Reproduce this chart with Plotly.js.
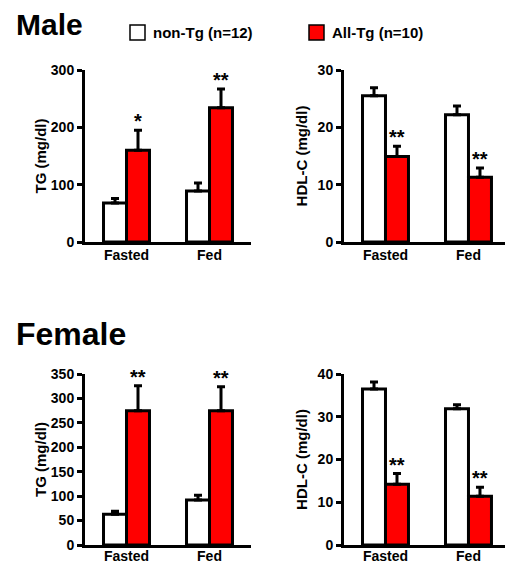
<!DOCTYPE html>
<html>
<head>
<meta charset="utf-8">
<script src="https://cdn.plot.ly/plotly-3.0.1.min.js"></script>
<style>html,body{margin:0;padding:0;background:#fff;}#chart{width:505px;height:563px;}</style>
</head>
<body>
<div id="chart"></div>
<script>
// ---- data ----
const categories = ['Fasted', 'Fed'];
const seriesNames = ['non-Tg (n=12)', 'All-Tg (n=10)'];
const sexTitles = ['Male', 'Female'];

const maleTG_nonTg = [68, 89];
const maleTG_nonTg_err = [8, 14];
const maleTG_allTg = [160, 234];
const maleTG_allTg_err = [35, 33];
const maleTG_sig = ['*', '**'];

const maleHDL_nonTg = [25.5, 22.2];
const maleHDL_nonTg_err = [1.4, 1.5];
const maleHDL_allTg = [14.9, 11.3];
const maleHDL_allTg_err = [1.8, 1.6];
const maleHDL_sig = ['**', '**'];

const femaleTG_nonTg = [63, 92];
const femaleTG_nonTg_err = [6, 10];
const femaleTG_allTg = [275, 275];
const femaleTG_allTg_err = [51, 49];
const femaleTG_sig = ['**', '**'];

const femaleHDL_nonTg = [36.5, 31.9];
const femaleHDL_nonTg_err = [1.6, 0.9];
const femaleHDL_allTg = [14.2, 11.4];
const femaleHDL_allTg_err = [2.5, 2.1];
const femaleHDL_sig = ['**', '**'];

const yTitles = ['TG (mg/dl)', 'HDL-C (mg/dl)', 'TG (mg/dl)', 'HDL-C (mg/dl)'];

// ---- build ----
const FONT = 'Arial, "Liberation Sans", sans-serif';
const W = 505, H = 563;
const panels = [
  {nt: maleTG_nonTg, nte: maleTG_nonTg_err, at: maleTG_allTg, ate: maleTG_allTg_err, sig: maleTG_sig, yr: [0, 300], dt: 100},
  {nt: maleHDL_nonTg, nte: maleHDL_nonTg_err, at: maleHDL_allTg, ate: maleHDL_allTg_err, sig: maleHDL_sig, yr: [0, 30], dt: 10},
  {nt: femaleTG_nonTg, nte: femaleTG_nonTg_err, at: femaleTG_allTg, ate: femaleTG_allTg_err, sig: femaleTG_sig, yr: [0, 350], dt: 50},
  {nt: femaleHDL_nonTg, nte: femaleHDL_nonTg_err, at: femaleHDL_allTg, ate: femaleHDL_allTg_err, sig: femaleHDL_sig, yr: [0, 40], dt: 10}
];
const xDomains = [[85 / W, 251 / W], [344 / W, 1]];
const xRanges = [[-0.5, 1.5], [-0.5, 1.44]];
const yDomains = [[1 - 242 / H, 1 - 70 / H], [1 - 545 / H, 1 - 374 / H]];
const labelStandoff = [-2, -4];
const titleStandoff = [1, 7];

const traces = [];
const annotations = [];
const layout = {
  width: W, height: H,
  margin: {l: 0, r: 0, t: 0, b: 0},
  paper_bgcolor: '#fff', plot_bgcolor: '#fff',
  showlegend: false,
  barmode: 'group', bargap: 0.446, bargroupgap: 0,
  font: {family: FONT, color: '#000', size: 14, weight: 700},
  annotations: annotations,
  shapes: []
};

panels.forEach((p, i) => {
  const n = i + 1;
  const xa = 'x' + (n === 1 ? '' : n), ya = 'y' + (n === 1 ? '' : n);
  const col = i % 2, row = Math.floor(i / 2);
  const errStyle = {type: 'data', symmetric: false, color: '#000', thickness: 3, width: 4};
  traces.push({
    type: 'bar', x: categories, y: p.nt, name: seriesNames[0], xaxis: xa, yaxis: ya,
    marker: {color: '#ffffff', line: {color: '#000', width: 3}},
    error_y: Object.assign({array: p.nte, arrayminus: p.nt.map(() => 0)}, errStyle)
  });
  traces.push({
    type: 'bar', x: categories, y: p.at, name: seriesNames[1], xaxis: xa, yaxis: ya,
    marker: {color: '#ff0000', line: {color: '#000', width: 3}},
    error_y: Object.assign({array: p.ate, arrayminus: p.at.map(() => 0)}, errStyle)
  });
  layout['xaxis' + (n === 1 ? '' : n)] = {
    domain: xDomains[col], range: xRanges[col], anchor: ya, type: 'category',
    showline: true, linecolor: '#000', linewidth: 3, ticks: '', showgrid: false, zeroline: false,
    ticklabelstandoff: labelStandoff[row],
    tickfont: {family: FONT, size: 14, weight: 700, color: '#000'}, fixedrange: true
  };
  layout['yaxis' + (n === 1 ? '' : n)] = {
    domain: yDomains[row], range: p.yr, dtick: p.dt, tick0: 0, anchor: xa,
    showline: true, linecolor: '#000', linewidth: 3, ticks: 'outside', ticklen: 5, tickwidth: 3, tickcolor: '#000',
    showgrid: false, zeroline: false,
    tickfont: {family: FONT, size: 14, weight: 700, color: '#000'},
    title: {text: yTitles[i], font: {family: FONT, size: 15, weight: 700, color: '#000'}, standoff: titleStandoff[col]},
    fixedrange: true
  };
  p.sig.forEach((s, k) => {
    annotations.push({
      xref: xa, yref: ya, x: k, y: p.at[k] + p.ate[k], xshift: 11.5, yshift: -4,
      text: s, showarrow: false, yanchor: 'bottom', xanchor: 'center',
      font: {family: FONT, size: 20, weight: 700, color: '#000'}
    });
  });
});

// sex titles
annotations.push({xref: 'paper', yref: 'paper', x: 14 / W, y: 1 - 24 / H, xanchor: 'left', yanchor: 'middle',
  text: sexTitles[0], showarrow: false, font: {family: FONT, size: 30, weight: 700, color: '#000'}});
annotations.push({xref: 'paper', yref: 'paper', x: 14 / W, y: 1 - 334 / H, xanchor: 'left', yanchor: 'middle',
  text: sexTitles[1], showarrow: false, font: {family: FONT, size: 32, weight: 700, color: '#000'}});

// legend (boxes + labels)
const legendItems = [{x0: 130, fill: '#ffffff'}, {x0: 309, fill: '#ff0000'}];
legendItems.forEach((it, k) => {
  layout.shapes.push({type: 'rect', xref: 'paper', yref: 'paper',
    x0: it.x0 / W, x1: (it.x0 + 15) / W, y0: 1 - 40 / H, y1: 1 - 25 / H,
    fillcolor: it.fill, line: {color: '#000', width: 1.5}});
  annotations.push({xref: 'paper', yref: 'paper', x: (it.x0 + 21) / W, y: 1 - 32.5 / H, xanchor: 'left', yanchor: 'middle',
    text: seriesNames[k], showarrow: false, font: {family: FONT, size: 15, weight: 700, color: '#000'}});
});

Plotly.newPlot('chart', traces, layout, {displayModeBar: false, staticPlot: true});
</script>
</body>
</html>
